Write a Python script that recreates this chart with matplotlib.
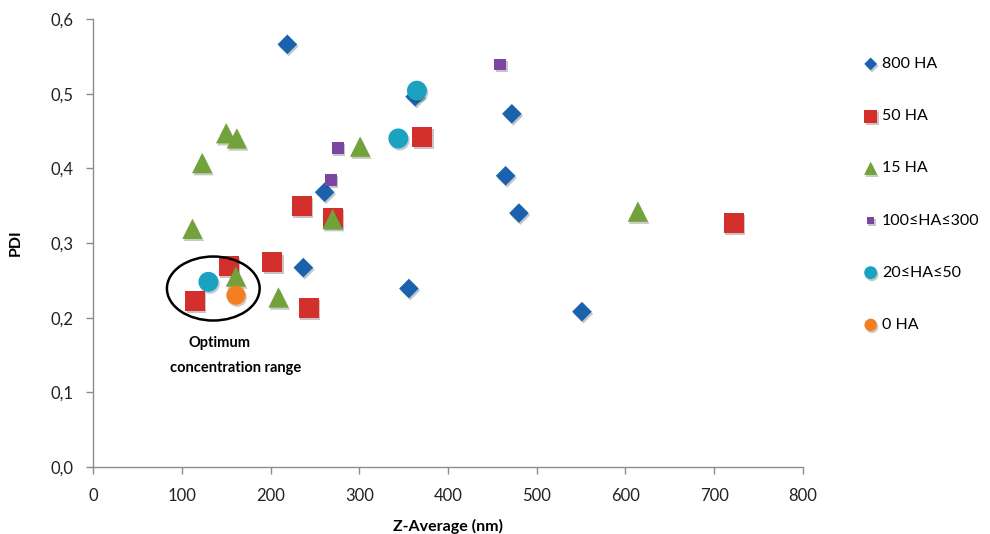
import matplotlib
matplotlib.use('Agg')
import matplotlib.pyplot as plt
import matplotlib.patheffects as pe
from matplotlib.patches import Ellipse
from matplotlib.ticker import FuncFormatter, MultipleLocator

plt.rcParams['font.family'] = ['Lato', 'DejaVu Sans']

# Z-average (nm) and PDI for each hyaluronic acid group
z_800 = [219, 363, 472, 465, 480, 261, 237, 356, 551]
pdi_800 = [0.566, 0.496, 0.473, 0.390, 0.340, 0.368, 0.267, 0.239, 0.208]

z_50 = [235, 270, 202, 153, 115, 243, 371, 722]
pdi_50 = [0.350, 0.334, 0.274, 0.269, 0.222, 0.213, 0.442, 0.327]

z_15 = [150, 162, 123, 112, 161, 209, 270, 301, 614]
pdi_15 = [0.447, 0.440, 0.407, 0.319, 0.255, 0.227, 0.332, 0.429, 0.342]

z_mid = [276, 268, 459]
pdi_mid = [0.427, 0.384, 0.539]

z_low = [130, 344, 365]
pdi_low = [0.248, 0.440, 0.504]

z_0 = [161]
pdi_0 = [0.230]

series = [
    (z_800, pdi_800, '800 HA', 'D', 100, '#1B62AE'),
    (z_50, pdi_50, '50 HA', 's', 205, '#D32F2C'),
    (z_15, pdi_15, '15 HA', '^', 215, '#72A33A'),
    (z_mid, pdi_mid, '100≤HA≤300', 's', 72, '#7B46A1'),
    (z_low, pdi_low, '20≤HA≤50', 'o', 205, '#1AA2C0'),
    (z_0, pdi_0, '0 HA', 'o', 190, '#F47E20'),
]

fig = plt.figure(figsize=(9.9, 5.34), dpi=100)
ax = fig.add_axes([0.094, 0.1255, 0.717, 0.839])

shadow = [pe.SimplePatchShadow(offset=(1, -1.5), alpha=0.25), pe.Normal()]
handles = []
for x, y, label, marker, size, color in series:
    sc = ax.scatter(x, y, s=size, marker=marker, color=color, linewidths=0,
                    label=label, zorder=2)
    sc.set_path_effects(shadow)
    handles.append(sc)

# optimum region
ax.add_patch(Ellipse((135.5, 0.239), 104.5, 0.0857, facecolor='none',
                     edgecolor='black', linewidth=1.8, zorder=3))
ax.text(142, 0.166, 'Optimum', ha='center', va='center',
        fontsize=10.5, fontweight='bold')
ax.text(161, 0.1326, 'concentration range', ha='center', va='center',
        fontsize=10.5, fontweight='bold')

ax.set_xlim(0, 800)
ax.set_ylim(0, 0.6)
ax.xaxis.set_major_locator(MultipleLocator(100))
ax.yaxis.set_major_locator(MultipleLocator(0.1))
ax.yaxis.set_major_formatter(FuncFormatter(lambda v, p: f'{v:.1f}'.replace('.', ',')))

for side in ['top', 'right']:
    ax.spines[side].set_visible(False)
for side in ['left', 'bottom']:
    ax.spines[side].set_color('#8C8C8C')
    ax.spines[side].set_linewidth(1.0)
ax.tick_params(direction='out', length=5, width=1, color='#8C8C8C',
               labelsize=12, labelcolor='#222222')
ax.tick_params(axis='y', pad=9)
ax.tick_params(axis='x', pad=10)

ax.set_xlabel('Z-Average (nm)', fontsize=11.5, fontweight='bold', labelpad=11)
ax.set_ylabel('PDI', fontsize=11.5, fontweight='bold', labelpad=20)

fig.legend(handles=handles, loc='center left', bbox_to_anchor=(0.873, 0.6358),
           frameon=False, fontsize=11.5, markerscale=0.65, handlelength=0.8,
           handletextpad=0.3, labelspacing=2.38, borderpad=0, borderaxespad=0)

fig.savefig('out.png', dpi=100)
